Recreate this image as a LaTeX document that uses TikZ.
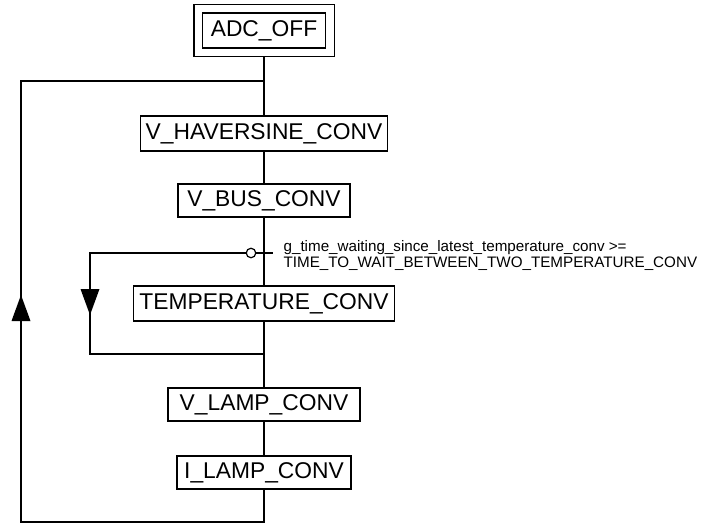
\documentclass[tikz,border=0pt]{standalone}
\usepackage{fontspec}
\setmainfont{Liberation Sans}
\usetikzlibrary{fit}
\begin{document}
\begin{tikzpicture}[x=1pt,y=-1pt,
  line width=1.2pt,
  stepbox/.style={draw, line width=1.2pt, inner sep=0pt, minimum height=34pt,
    font=\fontsize{22.8}{26}\selectfont},
  cond/.style={anchor=west, align=left, inner sep=0pt,
    font=\fontsize{15.2}{16}\selectfont},
  tri/.style={fill=black, draw=none}]
\useasboundingbox (0,0) rectangle (705,525);
\node[stepbox, minimum width=123pt, minimum height=35pt] (adc) at (264,30.5) {ADC\_OFF};
\node[draw, line width=1.2pt, fit=(adc), inner sep=8pt] (adcouter) {};
\node[stepbox, minimum width=247pt, minimum height=35pt] (vhav) at (264,133.5) {V\_HAVERSINE\_CONV};
\node[stepbox, minimum width=172pt, minimum height=33pt] (vbus) at (264,200.5) {V\_BUS\_CONV};
\node[stepbox, minimum width=261pt, minimum height=35pt] (temp) at (264,303.5) {TEMPERATURE\_CONV};
\node[stepbox, minimum width=192pt, minimum height=33pt] (vlamp) at (264,404.5) {V\_LAMP\_CONV};
\node[stepbox, minimum width=174pt, minimum height=33pt] (ilamp) at (264,472.5) {I\_LAMP\_CONV};
\node[cond] (condtext) at (283,255) {g\_time\_waiting\_since\_latest\_temperature\_conv >=\\TIME\_TO\_WAIT\_BETWEEN\_TWO\_TEMPERATURE\_CONV};
% coordinates
\coordinate (jtop) at (264,81);
\coordinate (bot) at (264,522);
\coordinate (lbot) at (21,522);
\coordinate (ltop) at (21,81);
\coordinate (jin) at (264,354);
\coordinate (ibot) at (90,354);
\coordinate (itop) at (90,253);
\coordinate (tickend) at (273,253);
\node[draw, circle, line width=1.2pt, inner sep=0pt, minimum size=9.5pt, fill=white] (circ) at (251,253) {};
% main line
\draw (adcouter.south) -- (vhav.north);
\draw (vhav.south) -- (vbus.north);
\draw (vbus.south) -- (temp.north);
\draw (temp.south) -- (vlamp.north);
\draw (vlamp.south) -- (ilamp.north);
% outer loop
\draw (ilamp.south) -- (bot) -- (lbot) -- (ltop) -- (jtop);
\fill[tri] (21,295) -- (11.5,321) -- (30.5,321) -- cycle;
% inner loop
\draw (circ.west) -- (itop) -- (ibot) -- (jin);
\fill[tri] (90,315) -- (80.5,289) -- (99.5,289) -- cycle;
% transition tick
\draw (circ.east) -- (tickend);
\end{tikzpicture}
\end{document}
